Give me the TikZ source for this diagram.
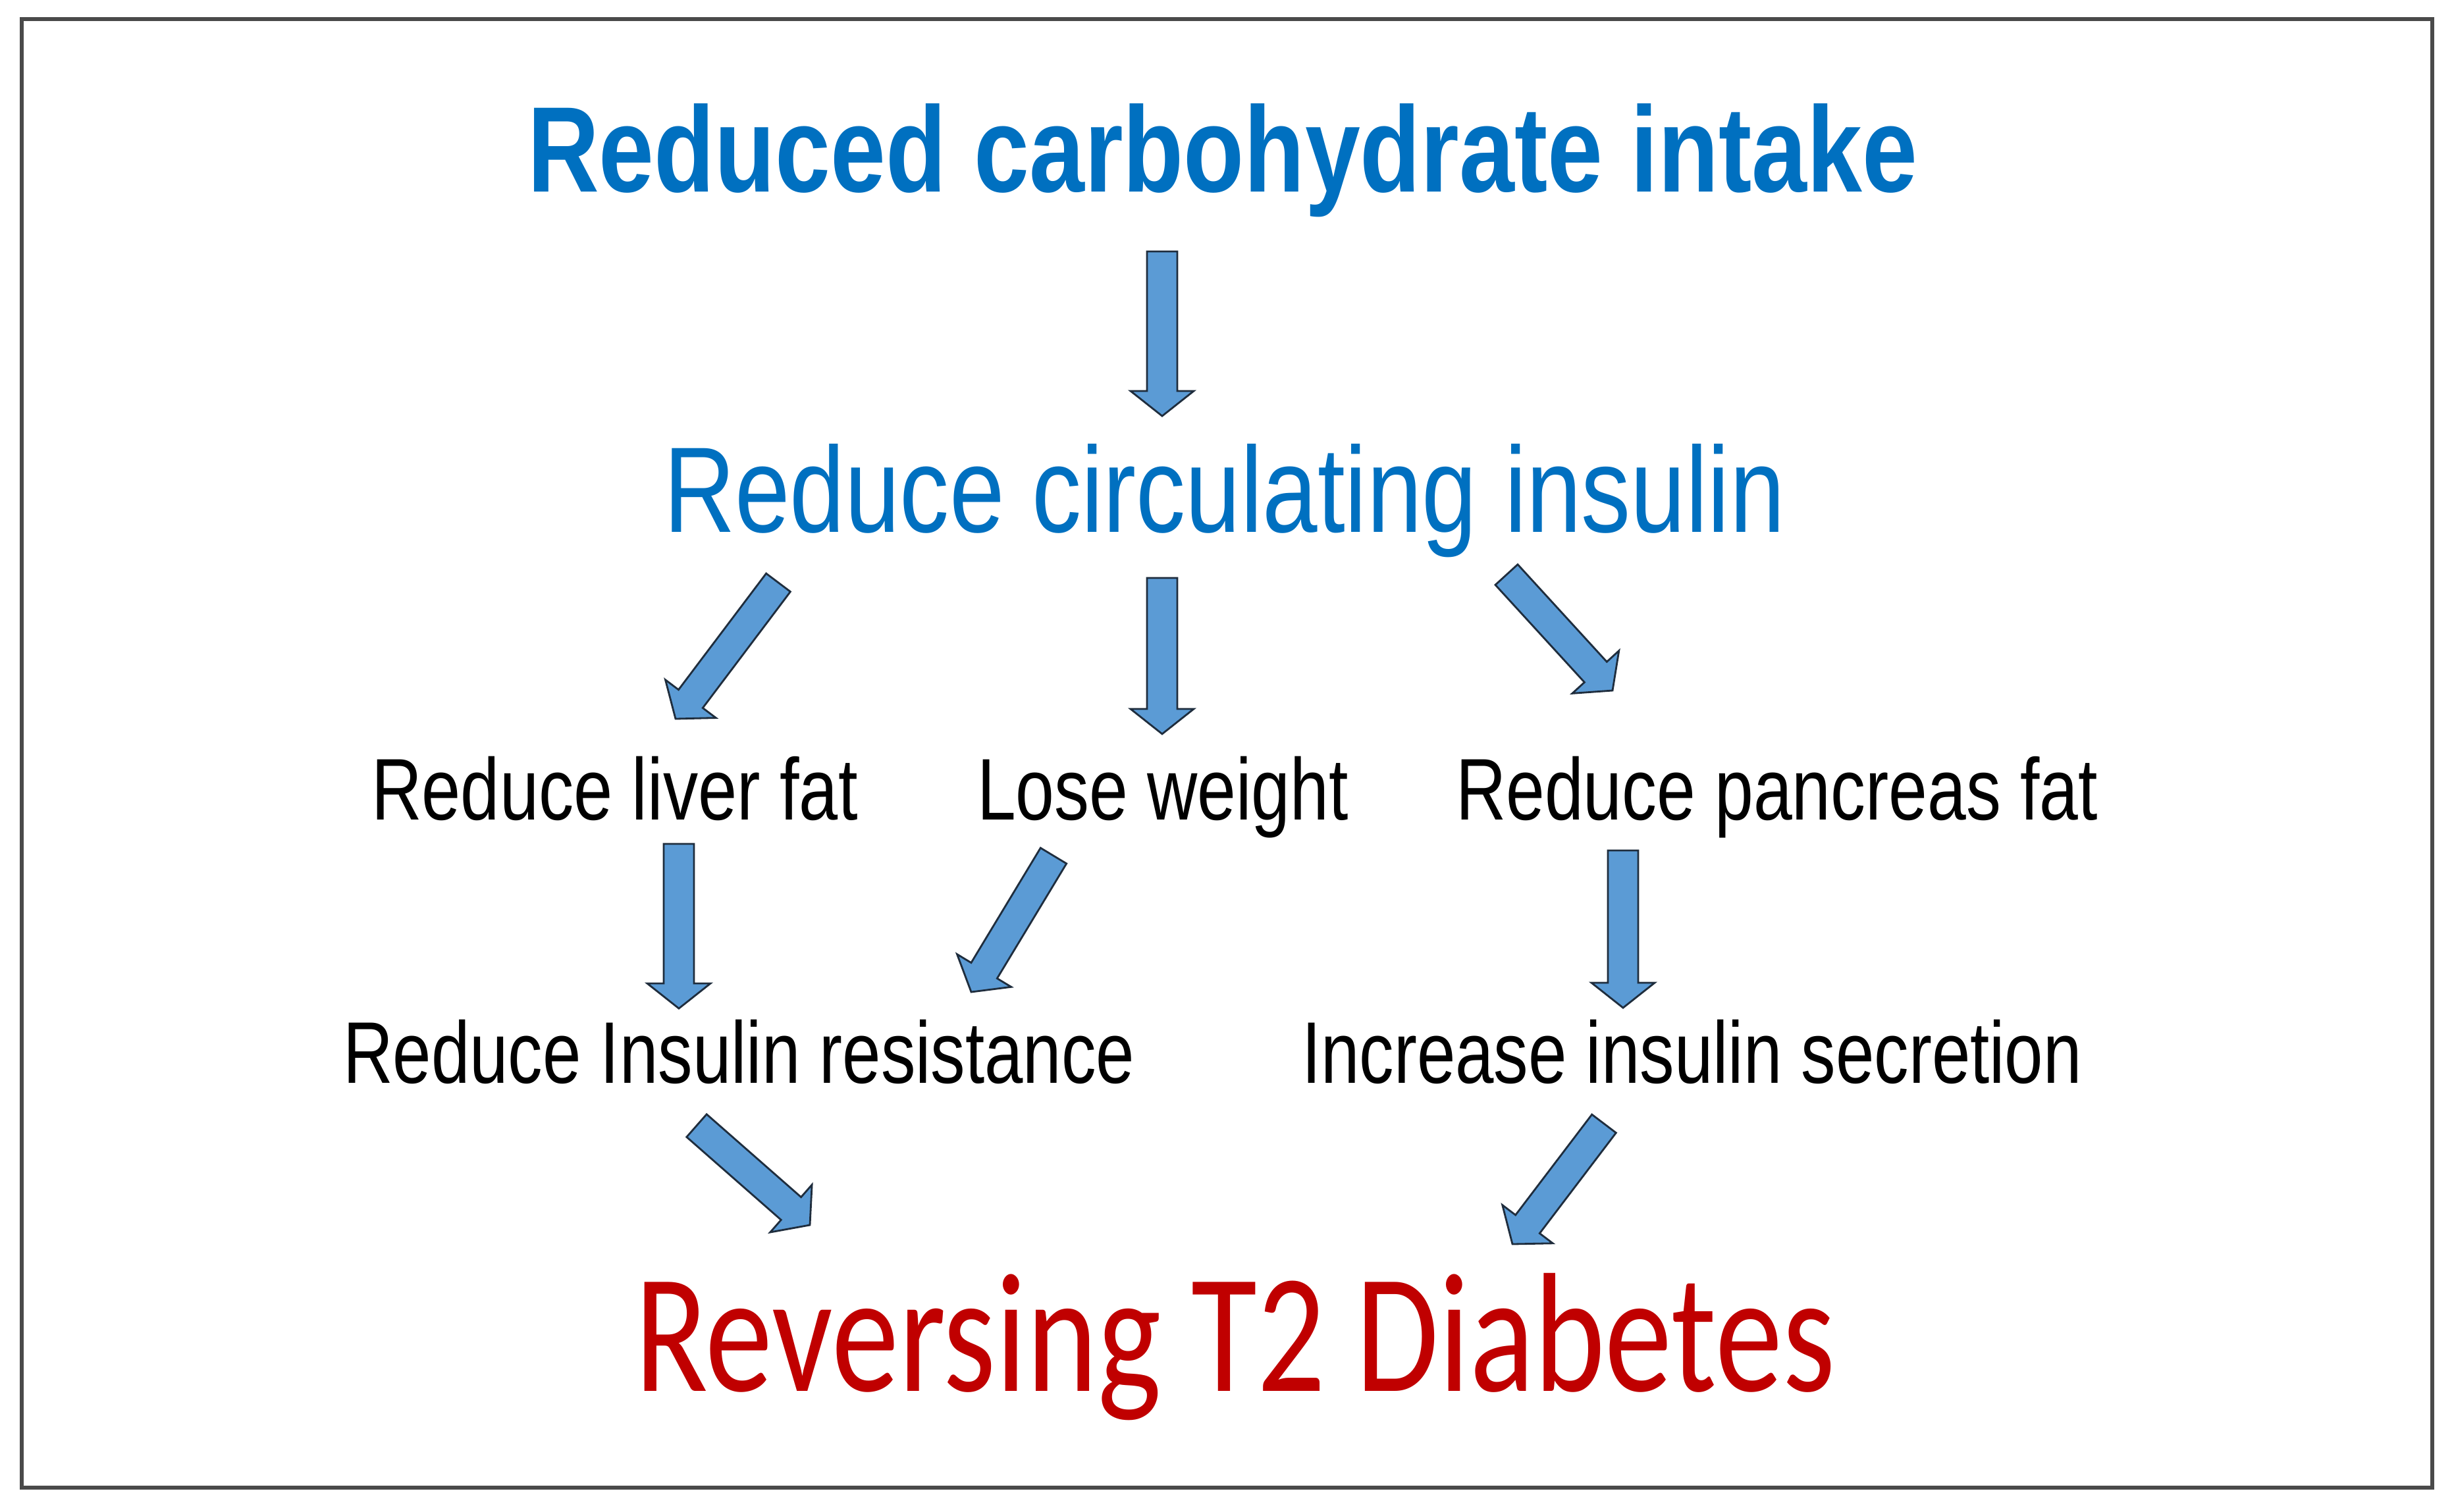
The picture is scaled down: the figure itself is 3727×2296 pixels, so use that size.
\documentclass[tikz,border=0pt]{standalone}
\usepackage{fontspec}
\usepackage{graphicx}
\usetikzlibrary{calc}
\newfontfamily\arialf{Liberation Sans}
\newfontfamily\calibf{Carlito}
\definecolor{tblue}{HTML}{0070C0}
\definecolor{tred}{HTML}{C00000}
\definecolor{afill}{HTML}{5B9BD5}
\definecolor{aline}{HTML}{1F2D3D}
\definecolor{fline}{HTML}{4A4A4A}
\tikzset{
  txt/.style={inner sep=0pt,outer sep=0pt,anchor=base west},
  barrow/.style={fill=afill,draw=aline,line width=0.8pt,line join=miter},
  frameline/.style={draw=fline,line width=1.5pt}
}
\newcommand\blockarrow[2]{%
  \coordinate (hb) at ($(#2)!0.38cm!(#1)$);
  \filldraw[barrow] ($(#1)!0.23cm!90:(#2)$) -- ($(hb)!0.23cm!90:(#2)$) -- ($(hb)!0.48cm!90:(#2)$) -- (#2) -- ($(hb)!0.48cm!-90:(#2)$) -- ($(hb)!0.23cm!-90:(#2)$) -- ($(#1)!0.23cm!-90:(#2)$) -- cycle;}
\begin{document}
\begin{tikzpicture}[x=0.01cm,y=-0.01cm]
\useasboundingbox (0,0) rectangle (3727,2296);
\draw[frameline] (33,29) rectangle (3694,2260);
% texts
\node[txt,text=tblue] (t1) at (801,291) {\scalebox{0.815}[1]{\arialf\bfseries\fontsize{52.6}{60}\selectfont Reduced carbohydrate intake}};
\node[txt,text=tblue] (t2) at (1008,808) {\scalebox{0.812}[1]{\arialf\fontsize{52.6}{60}\selectfont Reduce circulating insulin}};
\node[txt] (liver) at (564,1245) {\scalebox{0.80}[1]{\arialf\fontsize{37.8}{44}\selectfont Reduce liver fat}};
\node[txt] (lose) at (1484,1245) {\scalebox{0.795}[1]{\arialf\fontsize{37.8}{44}\selectfont Lose weight}};
\node[txt] (pancreas) at (2211,1245) {\scalebox{0.795}[1]{\arialf\fontsize{37.8}{44}\selectfont Reduce pancreas fat}};
\node[txt] (resist) at (521,1645) {\scalebox{0.79}[1]{\arialf\fontsize{37.8}{44}\selectfont Reduce Insulin resistance}};
\node[txt] (secr) at (1977,1645) {\scalebox{0.79}[1]{\arialf\fontsize{37.8}{44}\selectfont Increase insulin secretion}};
\node[txt,text=tred] (rev) at (964,2113) {\scalebox{0.793}[1]{\calibf\fontsize{73.4}{80}\selectfont Reversing T2 Diabetes}};
% arrow end points
\coordinate (a1s) at (1765,382);  \coordinate (a1e) at (1765,632);
\coordinate (a2s) at (1182,885);  \coordinate (a2e) at (1026,1092);
\coordinate (a3s) at (1765,878);  \coordinate (a3e) at (1765,1115);
\coordinate (a4s) at (2288,873);  \coordinate (a4e) at (2449,1049);
\coordinate (a5s) at (1031,1282); \coordinate (a5e) at (1031,1532);
\coordinate (a6s) at (1600,1300); \coordinate (a6e) at (1475,1507);
\coordinate (a7s) at (2465,1292); \coordinate (a7e) at (2465,1531);
\coordinate (a8s) at (1058,1710); \coordinate (a8e) at (1230,1861);
\coordinate (a9s) at (2436,1707); \coordinate (a9e) at (2297,1890);
\blockarrow{a1s}{a1e}
\blockarrow{a2s}{a2e}
\blockarrow{a3s}{a3e}
\blockarrow{a4s}{a4e}
\blockarrow{a5s}{a5e}
\blockarrow{a6s}{a6e}
\blockarrow{a7s}{a7e}
\blockarrow{a8s}{a8e}
\blockarrow{a9s}{a9e}
\end{tikzpicture}
\end{document}
